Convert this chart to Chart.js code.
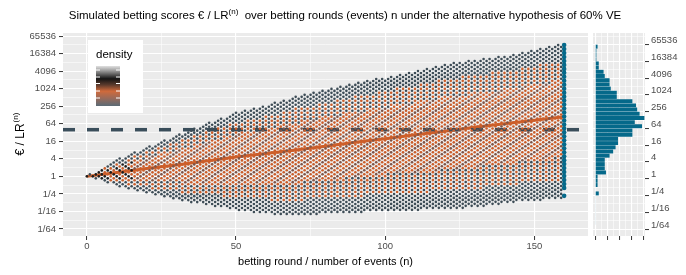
<!DOCTYPE html>
<html>
<head>
<meta charset="utf-8">
<script src="https://cdn.jsdelivr.net/npm/chart.js@4.4.1/dist/chart.umd.min.js"></script>
<style>
  html, body { margin: 0; padding: 0; background: #fff; }
  #wrap { position: relative; width: 686px; height: 275px; overflow: hidden; font-family: "Liberation Sans", Arial, sans-serif; }
  #title { position: absolute; left: 0; top: 7px; width: 690px; text-align: center; font-size: 11.5px; color: #000; white-space: nowrap; }
  #title sup { font-size: 8px; }
  #main { position: absolute; left: 0; top: 0; }
  #hist { position: absolute; left: 592px; top: 0; }
</style>
</head>
<body>
<div id="wrap">
  <canvas id="main" width="592" height="275"></canvas>
  <canvas id="hist" width="94" height="275"></canvas>
  <div id="title">Simulated betting scores € / LR<sup>(n)</sup>&nbsp; over betting rounds (events) n under the alternative hypothesis of 60% VE</div>
</div>
<script>
// values
const ROUNDS = [0, 10, 20, 30, 40, 50, 60, 70, 80, 90, 100, 110, 120, 130, 140, 150, 160];
const MEDIAN_SCORE = [1, 1.37, 1.87, 2.46, 3.36, 4.6, 6.06, 8, 10.9, 14.9, 19.7, 26.9, 35.5, 48.5, 64, 84, 111];
const UPPER_SCORE = [1, 3.6, 10, 24, 63, 150, 270, 530, 920, 1550, 2500, 4100, 6700, 10000, 13000, 21600, 35000];
const LOWER_SCORE = [1, 0.5, 0.27, 0.165, 0.11, 0.072, 0.055, 0.047, 0.055, 0.058, 0.072, 0.072, 0.083, 0.088, 0.125, 0.154, 0.19];
const THRESHOLD = 40;
const FINAL_ROUND = 160;
const STEP_UP = 1.17;    // factor per event in placebo arm (lattice spacing)
const STEP_DOWN = 0.855; // factor per event in vaccine arm

// histogram of final scores (log2 bin centres, counts)
const HIST_BIN_LOG2 = [-5.75, -5.25, -4.75, -4.25, -3.75, -3.25, -2.75, -2.25, -1.75, -1.25, -0.75, -0.25, 0.25, 0.75, 1.25, 1.75,
  2.25, 2.75, 3.25, 3.75, 4.25, 4.75, 5.25, 5.75, 6.25, 6.75, 7.25, 7.75, 8.25, 8.75, 9.25, 9.75,
  10.25, 10.75, 11.25, 11.75, 12.25, 12.75, 13.25, 13.75, 14.25, 14.75, 15.25];
const HIST_COUNT = [0.4, 0.4, 0.4, 0.4, 0.4, 0.4, 0.4, 3, 0.5, 2, 2, 2, 9, 8, 8, 8,
  12, 15, 17, 19, 19, 31, 31, 39, 33, 41, 37, 35, 34, 31, 18, 18,
  13, 12, 12, 8, 7, 3, 3, 1, 1, 1, 2];

const Y_TICK_VALUES = [1/64, 1/16, 1/4, 1, 4, 16, 64, 256, 1024, 4096, 16384, 65536];
const Y_TICK_LABELS = ['1/64', '1/16', '1/4', '1', '4', '16', '64', '256', '1024', '4096', '16384', '65536'];
const X_TICKS = [0, 50, 100, 150];
const HIST_TICKS = [0, 10, 20, 30, 40];

const FONT = '"Liberation Sans", Arial, sans-serif';
const PANEL_BG = '#ebebeb';
const TEAL = '#05698a';
const ORANGE = '#c95c29';
const BROWN = '#7e5244';
const SLATE = '#3d4c56';
const DARK = '#1c1c1c';

// helpers
const log2 = Math.log2;
function edgeAt(arr, n) {
  const i = Math.min(Math.floor(n / 10), ROUNDS.length - 2);
  const f = (n - ROUNDS[i]) / (ROUNDS[i + 1] - ROUNDS[i]);
  return log2(arr[i]) * (1 - f) + log2(arr[i + 1]) * f;
}
const majorY = Y_TICK_VALUES.map(v => Math.round(log2(v)));
function yLabel(v) {
  const i = majorY.indexOf(v);
  return i >= 0 ? Y_TICK_LABELS[i] : '';
}

// lattice points of the simulated paths, inside the envelope seen in the picture
const lu = log2(STEP_UP), ld = log2(STEP_DOWN);
const cloud = [], cloudColors = [], finals = [];
for (let n = 0; n <= FINAL_ROUND; n++) {
  const lo = edgeAt(LOWER_SCORE, n), hi = edgeAt(UPPER_SCORE, n), med = edgeAt(MEDIAN_SCORE, n);
  for (let k = 0; k <= n; k++) {
    const L = (n - k) * lu + k * ld;
    if (L < lo - 0.05 || L > hi + 0.05) continue;
    if (n === FINAL_ROUND) {
      const b = HIST_BIN_LOG2.findIndex(c => Math.abs(c - L) <= 0.25);
      if (b >= 0 && HIST_COUNT[b] >= 1) finals.push({ x: n, y: L });
      continue;
    }
    const t = L >= med ? (L - med) / Math.max(hi - med, 0.01) : (med - L) / Math.max(med - lo, 0.01);
    let col;
    if (n < 6 && t < 0.7) col = DARK;
    else if (n < 16 && t < 0.55) col = (n + k) % 2 ? DARK : ORANGE;
    else if (t < 0.5) col = (k % 3 === 0) ? BROWN : ORANGE;
    else if (t < 0.78) col = (n % 2) ? SLATE : ORANGE;
    else col = SLATE;
    cloud.push({ x: n, y: L });
    cloudColors.push(col);
  }
}

const medianLine = ROUNDS.map((r, i) => ({ x: r, y: log2(MEDIAN_SCORE[i]) }));
const thresholdLine = [{ x: -8, y: log2(THRESHOLD) }, { x: 168, y: log2(THRESHOLD) }];

const panelBg = {
  id: 'panelBg',
  beforeDraw(chart) {
    const { ctx, chartArea: a } = chart;
    ctx.save();
    ctx.fillStyle = PANEL_BG;
    ctx.fillRect(a.left, a.top, a.right - a.left, a.bottom - a.top);
    ctx.restore();
  }
};

const mainExtras = {
  id: 'mainExtras',
  afterDraw(chart) {
    const ctx = chart.ctx;
    ctx.save();
    // y axis title with superscript
    ctx.translate(20, 134.5);
    ctx.rotate(-Math.PI / 2);
    ctx.fillStyle = '#000';
    ctx.font = '12px ' + FONT;
    const w1 = ctx.measureText('€ / LR').width;
    ctx.font = '8px ' + FONT;
    const w2 = ctx.measureText('(n)').width;
    const x0 = -(w1 + w2) / 2;
    ctx.font = '12px ' + FONT;
    ctx.fillText('€ / LR', x0, 4);
    ctx.font = '8px ' + FONT;
    ctx.fillText('(n)', x0 + w1 + 1, -2);
    ctx.restore();

    // density legend
    ctx.save();
    ctx.fillStyle = '#fff';
    ctx.fillRect(88, 40, 55, 73);
    ctx.fillStyle = '#000';
    ctx.font = '11.5px ' + FONT;
    ctx.fillText('density', 96, 58);
    const g = ctx.createLinearGradient(0, 66, 0, 106);
    g.addColorStop(0, '#e0e0e0');
    g.addColorStop(0.12, '#9a9a9a');
    g.addColorStop(0.32, '#141414');
    g.addColorStop(0.47, '#5a3a2c');
    g.addColorStop(0.63, '#d06a3b');
    g.addColorStop(0.8, '#9c6a58');
    g.addColorStop(1, '#5b6b76');
    ctx.fillStyle = g;
    ctx.fillRect(96, 66, 24, 40);
    ctx.strokeStyle = '#fff';
    ctx.lineWidth = 1;
    [70, 77, 83.5, 91, 98].forEach(y => {
      ctx.beginPath();
      ctx.moveTo(96, y); ctx.lineTo(100, y);
      ctx.moveTo(116, y); ctx.lineTo(120, y);
      ctx.stroke();
    });
    ctx.restore();
  }
};

const yScale = (pos, width, pad) => ({
  type: 'linear', position: pos, min: -6.8, max: 16.35,
  afterBuildTicks: s => { s.ticks = []; for (let v = -6; v <= 16; v++) s.ticks.push({ value: v }); },
  afterFit: s => { s.width = width; },
  border: { display: false },
  grid: {
    color: '#fff',
    lineWidth: c => (c.tick && c.tick.value % 2 === 0) ? 1.1 : 0.55,
    tickColor: c => (c.tick && c.tick.value % 2 === 0) ? '#333' : 'rgba(0,0,0,0)',
    tickLength: 4, tickWidth: 1
  },
  ticks: { autoSkip: false, padding: pad, color: '#4d4d4d', font: { size: 9.5, family: FONT }, callback: v => yLabel(v) }
});

new Chart(document.getElementById('main'), {
  type: 'scatter',
  data: {
    datasets: [
      { data: cloud, pointBackgroundColor: cloudColors, pointBorderWidth: 0, pointRadius: 1.3 },
      { data: finals, pointBackgroundColor: TEAL, pointBorderWidth: 0, pointRadius: 2.3 },
      { type: 'line', data: thresholdLine, borderColor: '#3a4e5b', borderWidth: 3.5, borderDash: [12, 12], pointRadius: 0 },
      { type: 'line', data: medianLine, borderColor: '#d0612b', borderWidth: 3, pointRadius: 0, tension: 0 }
    ]
  },
  options: {
    responsive: false, animation: false, events: [],
    layout: { padding: { top: 33, right: 1, left: 0, bottom: 0 } },
    plugins: { legend: { display: false }, tooltip: { enabled: false } },
    scales: {
      x: {
        type: 'linear', min: -8, max: 168,
        afterBuildTicks: s => { s.ticks = [0, 25, 50, 75, 100, 125, 150].map(v => ({ value: v })); },
        afterFit: s => { s.height = 39; },
        border: { display: false },
        grid: {
          color: '#fff',
          lineWidth: c => (c.tick && X_TICKS.includes(c.tick.value)) ? 1.1 : 0.55,
          tickColor: c => (c.tick && X_TICKS.includes(c.tick.value)) ? '#333' : 'rgba(0,0,0,0)',
          tickLength: 4, tickWidth: 1
        },
        ticks: { autoSkip: false, maxRotation: 0, padding: 1, color: '#4d4d4d', font: { size: 9.5, family: FONT },
          callback: v => X_TICKS.includes(v) ? String(v) : '' },
        title: { display: true, text: 'betting round / number of events (n)', color: '#000',
          font: { size: 11, family: FONT }, padding: { top: 0, bottom: 6 } }
      },
      y: yScale('left', 63, 3)
    }
  },
  plugins: [panelBg, mainExtras]
});

new Chart(document.getElementById('hist'), {
  type: 'bar',
  data: {
    datasets: [{
      data: HIST_BIN_LOG2.map((b, i) => ({ x: HIST_COUNT[i], y: b })),
      backgroundColor: TEAL, borderWidth: 0, barPercentage: 0.94, categoryPercentage: 1
    }]
  },
  options: {
    indexAxis: 'y',
    responsive: false, animation: false, events: [],
    layout: { padding: { top: 33, right: 0, left: 1, bottom: 0 } },
    plugins: { legend: { display: false }, tooltip: { enabled: false } },
    scales: {
      x: {
        type: 'linear', min: -1.8, max: 41.5,
        afterBuildTicks: s => { s.ticks = [0, 5, 10, 15, 20, 25, 30, 35, 40].map(v => ({ value: v })); },
        afterFit: s => { s.height = 39; },
        border: { display: false },
        grid: {
          color: '#fff',
          lineWidth: c => (c.tick && HIST_TICKS.includes(c.tick.value)) ? 1.1 : 0.55,
          tickColor: c => (c.tick && HIST_TICKS.includes(c.tick.value)) ? '#333' : 'rgba(0,0,0,0)',
          tickLength: 4, tickWidth: 1
        },
        ticks: { autoSkip: false, maxRotation: 0, callback: () => '' }
      },
      y: yScale('right', 41, 2)
    }
  },
  plugins: [panelBg]
});
</script>
</body>
</html>
